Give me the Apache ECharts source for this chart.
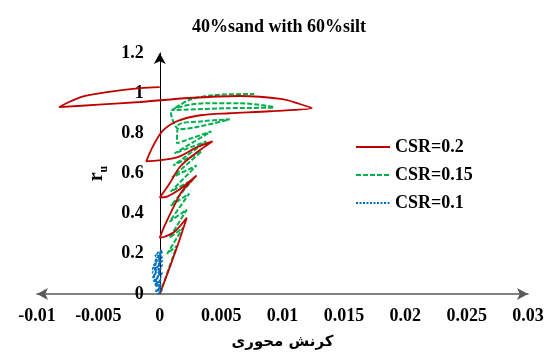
<!DOCTYPE html>
<html>
<head>
<meta charset="utf-8">
<script src="https://cdn.jsdelivr.net/npm/echarts@6/dist/echarts.min.js"></script>
<style>
    html, body { margin: 0; padding: 0; background: #fff; }
    #chart { width: 558px; height: 353px; }
</style>
</head>
<body>
<div id="chart"></div>
<script>
    // values: [axial strain, ru]
    var csr02 = [
        [0, 0], [0.0008, 0.13], [0.0015, 0.25], [0.0022, 0.38],
        [0.0012, 0.31], [0.0004, 0.285], [0, 0.28],
        [0.0004, 0.34], [0.0011, 0.43], [0.0018, 0.51], [0.003, 0.59],
        [0.0016, 0.52], [0.0006, 0.485], [0, 0.48],
        [0.0008, 0.55], [0.0016, 0.63], [0.0027, 0.69], [0.0043, 0.76],
        [0.003, 0.73], [0.0014, 0.68], [-0.0011, 0.66],
        [-0.0006, 0.73], [0.0002, 0.81], [0.0014, 0.86], [0.0033, 0.89], [0.0057, 0.90], [0.009, 0.91], [0.0124, 0.926],
        [0.0114, 0.946], [0.01, 0.97], [0.0065, 0.986], [0.0024, 0.976], [-0.0016, 0.956], [-0.005, 0.943], [-0.0082, 0.93],
        [-0.0076, 0.95], [-0.0063, 0.983], [-0.0043, 1.005], [-0.0016, 1.025], [0, 1.03]
    ];
    var csr015 = [
        [0, 0], [0.0007, 0.12], [0.0014, 0.24],
        [0.0006, 0.2], [0.0019, 0.33],
        [0.0008, 0.28], [0.0022, 0.42],
        [0.0008, 0.36], [0.0024, 0.5],
        [0.0009, 0.44], [0.0027, 0.57],
        [0.0009, 0.51], [0.003, 0.64],
        [0.001, 0.58], [0.0034, 0.71],
        [0.0011, 0.64], [0.0038, 0.76],
        [0.0012, 0.7], [0.0042, 0.81],
        [0.0014, 0.75], [0.0015, 0.84], [0.0035, 0.86], [0.0057, 0.87],
        [0.0016, 0.82], [0.0009, 0.906], [0.0038, 0.95], [0.0065, 0.95], [0.0093, 0.93],
        [0.0055, 0.925], [0.001, 0.916], [0.0024, 0.966], [0.0043, 0.99], [0.0077, 0.996]
    ];
    var csr01 = [
        [0, 0], [-0.0003, 0.02], [0.0002, 0.02], [-0.0004, 0.05], [0.0001, 0.04],
        [-0.0005, 0.07], [0.0001, 0.06], [-0.0006, 0.09], [0.0001, 0.08],
        [-0.0006, 0.11], [0.0002, 0.10], [-0.0006, 0.13], [0.0001, 0.12],
        [-0.0005, 0.15], [0.0002, 0.14], [-0.0004, 0.17], [0.0002, 0.16],
        [-0.0003, 0.19], [0.0002, 0.18], [-0.0002, 0.205], [0.0002, 0.2],
        [0, 0.215], [0.0002, 0.21]
    ];
    var seriesNames = ['CSR=0.2', 'CSR=0.15', 'CSR=0.1'];
    var xTicks = [-0.01, -0.005, 0, 0.005, 0.01, 0.015, 0.02, 0.025, 0.03];
    var yTicks = [0, 0.2, 0.4, 0.6, 0.8, 1, 1.2];

    var font = 'Liberation Serif, Times New Roman, serif';
    var gridLeft = 37, gridRight = 30;
    // push the y axis (line and labels) to x = 0
    var plotW = 558 - gridLeft - gridRight;
    var yOffset = -plotW * (0 - xTicks[0]) / (xTicks[xTicks.length - 1] - xTicks[0]);

    var option = {
        animation: false,
        title: {
            text: '40%sand with 60%silt',
            left: 'center',
            top: 13,
            textStyle: { fontFamily: font, fontSize: 18, fontWeight: 'bold', color: '#000' }
        },
        legend: {
            orient: 'vertical',
            left: 350,
            top: 133,
            itemWidth: 34,
            itemHeight: 12,
            itemGap: 10,
            itemStyle: { opacity: 0 },
            textStyle: { fontFamily: font, fontSize: 18, fontWeight: 'bold', color: '#000' },
            data: seriesNames
        },
        grid: { left: gridLeft, right: gridRight, top: 53, bottom: 59, outerBoundsMode: 'none' },
        xAxis: {
            type: 'value',
            min: xTicks[0],
            max: xTicks[xTicks.length - 1],
            interval: 0.005,
            axisLine: {
                onZero: true,
                symbol: ['arrow', 'arrow'],
                symbolSize: [9, 11],
                lineStyle: { color: '#595959', width: 1.5 }
            },
            axisTick: { show: false },
            splitLine: { show: false },
            axisLabel: {
                margin: 13,
                fontFamily: font, fontSize: 18, fontWeight: 'bold', color: '#000',
                formatter: function (v) { return String(Number(v.toFixed(3))); }
            },
            name: 'کرنش محوری',
            nameLocation: 'middle',
            nameGap: 41,
            nameTextStyle: { fontFamily: 'DejaVu Sans', fontSize: 15, fontWeight: 'bold', color: '#000' }
        },
        yAxis: {
            type: 'value',
            min: yTicks[0],
            max: yTicks[yTicks.length - 1],
            interval: 0.2,
            offset: yOffset,
            axisLine: {
                onZero: false,
                symbol: ['none', 'arrow'],
                symbolSize: [9, 11],
                lineStyle: { color: '#000', width: 1 }
            },
            axisTick: { show: false },
            splitLine: { show: false },
            axisLabel: {
                margin: 16,
                fontFamily: font, fontSize: 18, fontWeight: 'bold', color: '#000',
                formatter: function (v) { return String(Number(v.toFixed(1))); }
            },
            name: '{r|r}{u|u}',
            nameLocation: 'middle',
            nameGap: 52,
            nameRotate: 90,
            nameTextStyle: {
                rich: {
                    r: { fontFamily: font, fontSize: 20, fontWeight: 'bold', color: '#000', lineHeight: 20 },
                    u: { fontFamily: font, fontSize: 12, fontWeight: 'bold', color: '#000', lineHeight: 12, verticalAlign: 'bottom', padding: [0, 0, -4, 0] }
                }
            }
        },
        series: [
            {
                name: seriesNames[0],
                type: 'line',
                data: csr02,
                symbol: 'none',
                smooth: 0.3,
                lineStyle: { color: '#C00000', width: 1.8 },
                itemStyle: { color: '#C00000' },
                z: 3
            },
            {
                name: seriesNames[1],
                type: 'line',
                data: csr015,
                symbol: 'none',
                smooth: 0.3,
                lineStyle: { color: '#00B050', width: 2, type: [5, 2] },
                itemStyle: { color: '#00B050' },
                z: 2
            },
            {
                name: seriesNames[2],
                type: 'line',
                data: csr01,
                symbol: 'none',
                smooth: 0.2,
                lineStyle: { color: '#0070C0', width: 3, type: [2, 1.5] },
                itemStyle: { color: '#0070C0' },
                z: 4
            }
        ]
    };

    var myChart = echarts.init(document.getElementById('chart'));
    myChart.setOption(option);
</script>
</body>
</html>
